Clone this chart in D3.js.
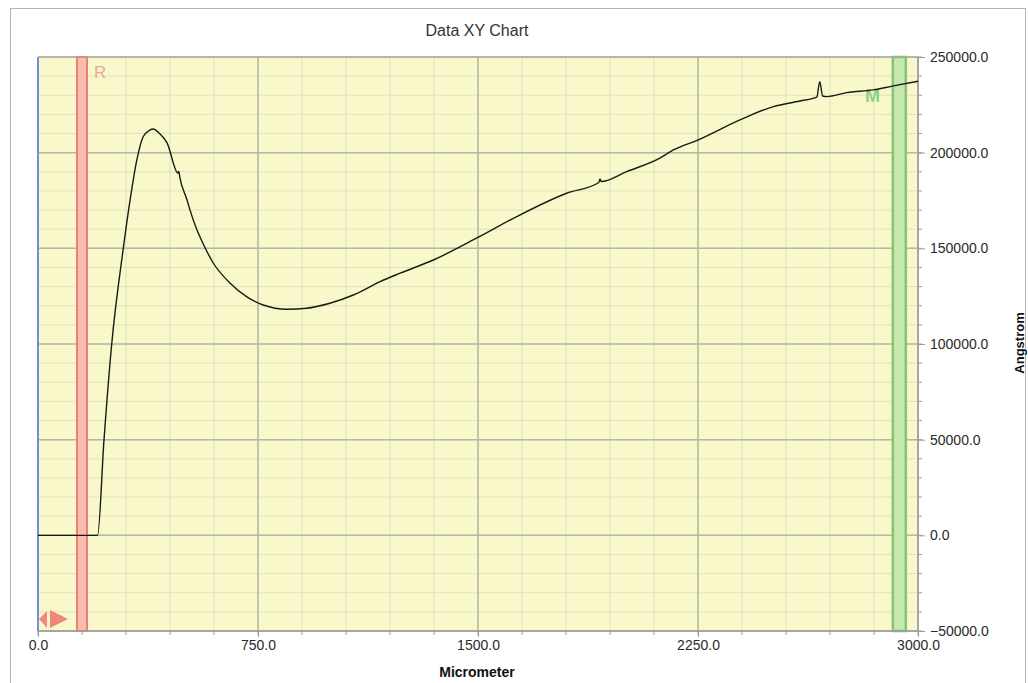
<!DOCTYPE html>
<html>
<head>
<meta charset="utf-8">
<script src="https://cdn.jsdelivr.net/npm/d3@7"></script>
<style>
  body { margin: 0; background: #fff; }
  text { font-family: Arial, "Liberation Sans", sans-serif; }
</style>
</head>
<body>
<script>
// Dados
const micrometer = [0, 100, 199, 203, 225, 251, 291, 314, 337, 358, 382, 392, 416, 440, 477, 480, 483, 508, 518, 542, 552, 598, 655, 711, 768, 848, 916, 995, 1075, 1166, 1234, 1348, 1501, 1632, 1802, 1912, 1916, 1920, 2007, 2120, 2166, 2251, 2393, 2507, 2598, 2655, 2665, 2675, 2689, 2757, 2848, 2916, 3000];
const angstrom = [0, 0, 0, 0, 49900, 99500, 150200, 175300, 196200, 208200, 211900, 212400, 209800, 205100, 189400, 190200, 187500, 175300, 170100, 159600, 156100, 142200, 131800, 124800, 120400, 118200, 118700, 121300, 125600, 132600, 137000, 143900, 155800, 166600, 178800, 184400, 186300, 184900, 190100, 197100, 201400, 206700, 217100, 224100, 227000, 229000, 237100, 229600, 229300, 231400, 232800, 234900, 237300];

const xTicks = [0, 750, 1500, 2250, 3000];
const yTicks = [-50000, 0, 50000, 100000, 150000, 200000, 250000];
const xMinor = d3.range(0, 3001, 150);
const yMinor = d3.range(-50000, 250001, 10000);

// Marcadores R e M
const marcadorR = 150;
const marcadorM = 2938;

const width = 1028;
const height = 683;
const margem = { left: 38, right: 918, top: 57, bottom: 631 };

const svg = d3.select("body")
  .append("svg")
  .attr("width", width)
  .attr("height", height);

const x = d3.scaleLinear().domain([0, 3000]).range([margem.left, margem.right]);
const y = d3.scaleLinear().domain([-50000, 250000]).range([margem.bottom, margem.top]);

// Moldura externa
svg.append("rect")
  .attr("x", 10.5)
  .attr("y", 8.5)
  .attr("width", 1015)
  .attr("height", 690)
  .attr("fill", "none")
  .attr("stroke", "#b5b5a8");

// Fundo da área do gráfico
svg.append("rect")
  .attr("x", margem.left)
  .attr("y", margem.top)
  .attr("width", margem.right - margem.left)
  .attr("height", margem.bottom - margem.top)
  .attr("fill", "#f8f8cb");

// Grade menor
svg.append("g")
  .selectAll("line")
  .data(xMinor)
  .join("line")
  .attr("x1", d => x(d))
  .attr("x2", d => x(d))
  .attr("y1", margem.top)
  .attr("y2", margem.bottom)
  .attr("stroke", "#dfe2c0")
  .attr("stroke-width", 1);

svg.append("g")
  .selectAll("line")
  .data(yMinor)
  .join("line")
  .attr("x1", margem.left)
  .attr("x2", margem.right)
  .attr("y1", d => y(d))
  .attr("y2", d => y(d))
  .attr("stroke", "#dfe2c0")
  .attr("stroke-width", 1);

// Grade maior
svg.append("g")
  .selectAll("line")
  .data(xTicks)
  .join("line")
  .attr("x1", d => x(d))
  .attr("x2", d => x(d))
  .attr("y1", margem.top)
  .attr("y2", margem.bottom)
  .attr("stroke", "#b4b6a6")
  .attr("stroke-width", 1.5);

svg.append("g")
  .selectAll("line")
  .data(yTicks)
  .join("line")
  .attr("x1", margem.left)
  .attr("x2", margem.right)
  .attr("y1", d => y(d))
  .attr("y2", d => y(d))
  .attr("stroke", "#b4b6a6")
  .attr("stroke-width", 1.5);

// Marcador R (vermelho)
svg.append("rect")
  .attr("x", x(marcadorR) - 5)
  .attr("y", margem.top)
  .attr("width", 10)
  .attr("height", margem.bottom - margem.top)
  .attr("fill", "#f8bcb2")
  .attr("stroke", "#ee7f75")
  .attr("stroke-width", 2);

svg.append("text")
  .attr("x", x(marcadorR) + 12)
  .attr("y", 78)
  .attr("font-size", "17px")
  .attr("fill", "#f2a696")
  .text("R");

// Marcador M (verde)
svg.append("rect")
  .attr("x", x(marcadorM) - 7)
  .attr("y", margem.top)
  .attr("width", 13)
  .attr("height", margem.bottom - margem.top)
  .attr("fill", "#c8e6b0")
  .attr("stroke", "#86c476")
  .attr("stroke-width", 2.5);

svg.append("text")
  .attr("x", 865)
  .attr("y", 102)
  .attr("font-size", "18px")
  .attr("font-weight", "bold")
  .attr("fill", "#8fcf85")
  .text("M");

// Linha azul à esquerda
svg.append("line")
  .attr("x1", margem.left)
  .attr("x2", margem.left)
  .attr("y1", margem.top)
  .attr("y2", margem.bottom)
  .attr("stroke", "#6f8fe0")
  .attr("stroke-width", 2);

// Setas no canto inferior esquerdo
svg.append("polygon")
  .attr("points", `${margem.left + 1},619 ${margem.left + 9},611 ${margem.left + 9},628`)
  .attr("fill", "#f08878");
svg.append("polygon")
  .attr("points", `${margem.left + 12},610 ${margem.left + 30},619 ${margem.left + 12},628`)
  .attr("fill", "#f08878");

// Eixos
svg.append("line")
  .attr("x1", margem.left)
  .attr("x2", margem.right)
  .attr("y1", margem.bottom)
  .attr("y2", margem.bottom)
  .attr("stroke", "#9c9c94")
  .attr("stroke-width", 1.5);

svg.append("line")
  .attr("x1", margem.right)
  .attr("x2", margem.right)
  .attr("y1", margem.top)
  .attr("y2", margem.bottom)
  .attr("stroke", "#9c9c94")
  .attr("stroke-width", 1.5);

svg.append("line")
  .attr("x1", margem.left)
  .attr("x2", margem.right)
  .attr("y1", margem.top)
  .attr("y2", margem.top)
  .attr("stroke", "#a8a89e")
  .attr("stroke-width", 1);

const eixoX = d3.axisBottom(x)
  .tickValues(xTicks)
  .tickFormat(d3.format(".1f"))
  .tickSize(6)
  .tickPadding(3);

const gx = svg.append("g")
  .attr("transform", `translate(0,${margem.bottom})`)
  .call(eixoX);
gx.select(".domain").remove();
gx.selectAll("line").attr("stroke", "#9c9c94");
gx.selectAll("text")
  .attr("font-size", "14px")
  .attr("fill", "#2a2a2a")
  .attr("font-family", "Arial, 'Liberation Sans', sans-serif");

svg.append("g")
  .selectAll("line")
  .data(xMinor)
  .join("line")
  .attr("x1", d => x(d))
  .attr("x2", d => x(d))
  .attr("y1", margem.bottom)
  .attr("y2", margem.bottom + 4)
  .attr("stroke", "#9c9c94");

const eixoY = d3.axisRight(y)
  .tickValues(yTicks)
  .tickFormat(d3.format(".1f"))
  .tickSize(7)
  .tickPadding(5);

const gy = svg.append("g")
  .attr("transform", `translate(${margem.right},0)`)
  .call(eixoY);
gy.select(".domain").remove();
gy.selectAll("line").attr("stroke", "#9c9c94");
gy.selectAll("text")
  .attr("font-size", "14px")
  .attr("fill", "#2a2a2a")
  .attr("font-family", "Arial, 'Liberation Sans', sans-serif");

svg.append("g")
  .selectAll("line")
  .data(yMinor)
  .join("line")
  .attr("x1", margem.right)
  .attr("x2", margem.right + 4)
  .attr("y1", d => y(d))
  .attr("y2", d => y(d))
  .attr("stroke", "#9c9c94");

// Curva
const linha = d3.line()
  .x(d => x(d[0]))
  .y(d => y(d[1]))
  .curve(d3.curveMonotoneX);

svg.append("path")
  .datum(d3.zip(micrometer, angstrom))
  .attr("d", linha)
  .attr("fill", "none")
  .attr("stroke", "#1a1a14")
  .attr("stroke-width", 1.4)
  .attr("stroke-linejoin", "round");

// Títulos
svg.append("text")
  .attr("x", 477)
  .attr("y", 36)
  .attr("text-anchor", "middle")
  .attr("font-size", "16px")
  .attr("fill", "#333")
  .text("Data XY Chart");

svg.append("text")
  .attr("x", 477)
  .attr("y", 677)
  .attr("text-anchor", "middle")
  .attr("font-size", "14px")
  .attr("font-weight", "bold")
  .attr("fill", "#111")
  .text("Micrometer");

svg.append("text")
  .attr("transform", "translate(1024,343) rotate(-90)")
  .attr("text-anchor", "middle")
  .attr("font-size", "13px")
  .attr("font-weight", "bold")
  .attr("fill", "#111")
  .text("Angstrom");
</script>
</body>
</html>
